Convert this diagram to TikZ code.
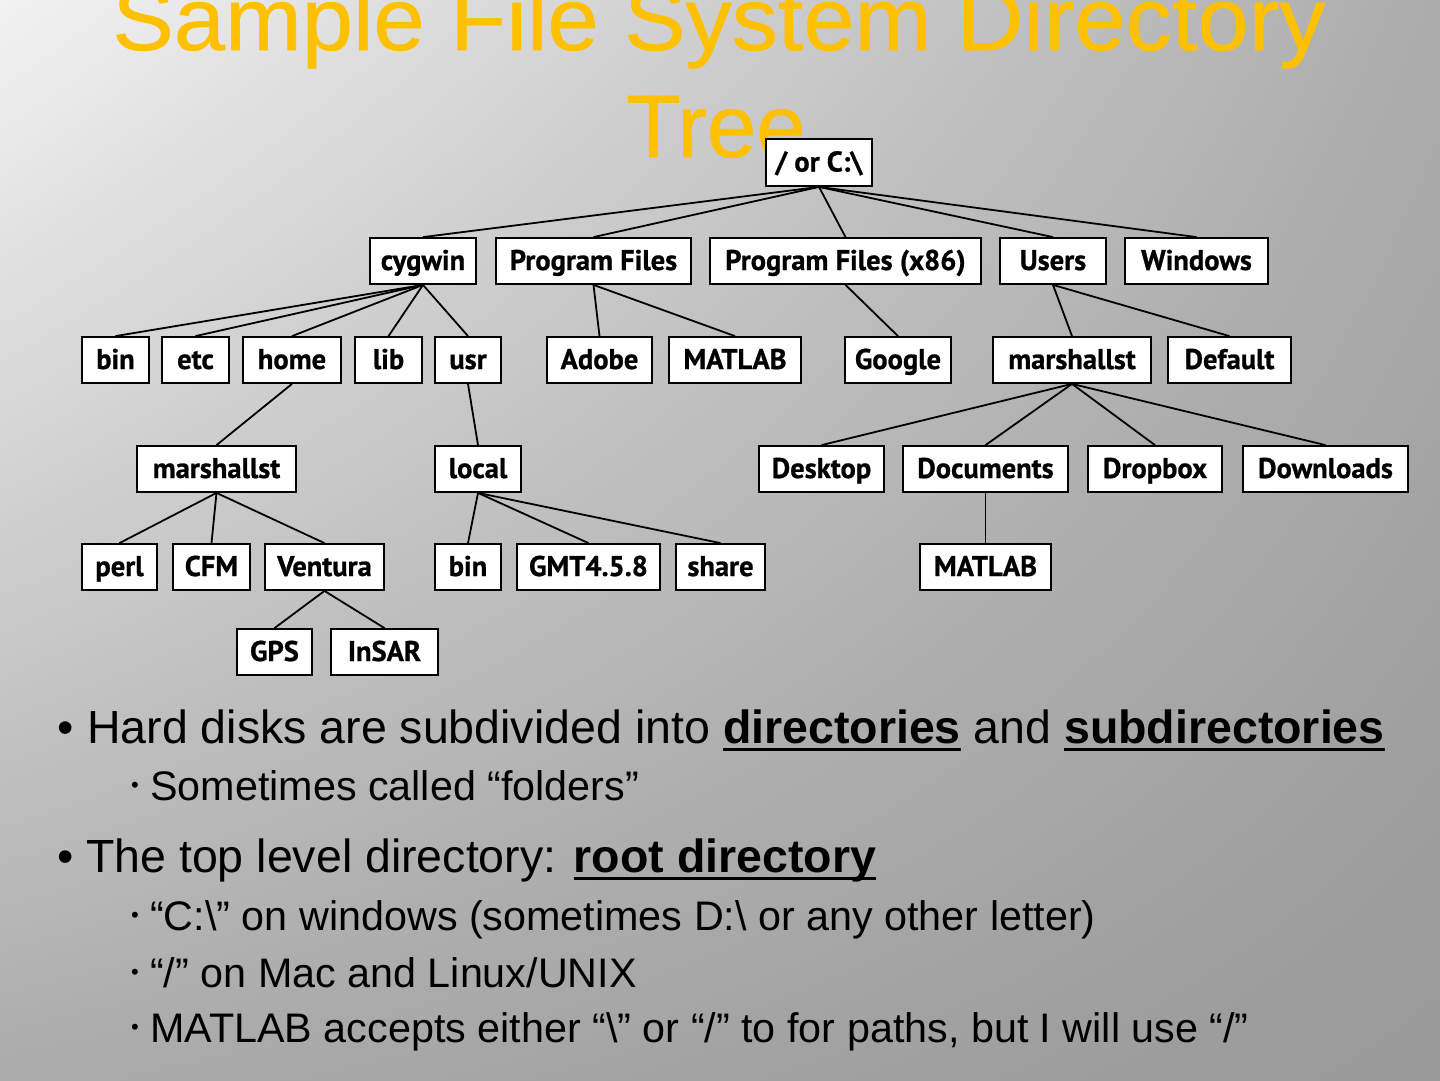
\documentclass[tikz,border=0pt]{standalone}
\usepackage{fontspec}
\usetikzlibrary{shadings}
\setmainfont{Liberation Sans}
\newfontfamily\titlefont{Liberation Sans}[FakeBold=0.6]
\newfontfamily\boxfont{PT Sans}[BoldFeatures={FakeBold=0.8}]
\definecolor{titleorange}{HTML}{FFC000}
\definecolor{bgtl}{HTML}{F2F2F2}
\definecolor{bgtr}{HTML}{ACACAC}
\definecolor{bgbl}{HTML}{ABABAB}
\definecolor{bgbr}{HTML}{999999}
\newcommand\myul[1]{\setbox0\hbox{#1}\rlap{\rule[-8pt]{\wd0}{3pt}}\box0\relax}
\begin{document}
\begin{tikzpicture}[x=1pt,y=-1pt,
  dirbox/.style={draw=black, fill=white, line width=1.8pt, minimum height=46pt,
    inner sep=0pt, text height=24pt, text depth=6pt,
    font=\boxfont\bfseries\fontsize{28.5}{28.5}\selectfont},
  edge/.style={line width=1.8pt, black},
  lvlone/.style={anchor=base west, inner sep=0pt, font=\fontsize{46.5}{46.5}\selectfont},
  lvltwo/.style={anchor=base west, inner sep=0pt, font=\fontsize{41.3}{41.3}\selectfont},
  smallbullet/.style={anchor=base west, inner sep=0pt, font=\fontsize{22}{22}\selectfont},
  titletext/.style={anchor=base, inner sep=0pt, text=titleorange, font=\titlefont\fontsize{89}{89}\selectfont}]
\useasboundingbox (0,0) rectangle (1440,1080);
\shade[upper left=bgtl, upper right=bgtr, lower left=bgbl, lower right=bgbr] (0,0) rectangle (1440,1080);
% title
\node[titletext] (t1) at (719,50) {\scalebox{1.035}[1]{Sample File System Directory}};
\node[titletext] (t2) at (716,157) {Tree};
% tree nodes
\node[dirbox, minimum width=106pt, minimum height=47pt] (root) at (819,162.5) {/ or C:\textbackslash};
\node[dirbox, minimum width=106pt] (cyg) at (423,261) {cygwin};
\node[dirbox, minimum width=195pt] (pf) at (593.5,261) {Program Files};
\node[dirbox, minimum width=271pt] (pfx) at (845.5,261) {Program Files (x86)};
\node[dirbox, minimum width=106pt] (users) at (1053,261) {Users};
\node[dirbox, minimum width=143pt] (win) at (1196.5,261) {Windows};
\node[dirbox, minimum width=67pt] (bina) at (115.5,360) {bin};
\node[dirbox, minimum width=67pt] (etc) at (195.5,360) {etc};
\node[dirbox, minimum width=98pt] (home) at (292,360) {home};
\node[dirbox, minimum width=67pt] (lib) at (388.5,360) {lib};
\node[dirbox, minimum width=66pt] (usr) at (468,360) {usr};
\node[dirbox, minimum width=105pt] (adobe) at (599.5,360) {Adobe};
\node[dirbox, minimum width=132pt] (mata) at (735,360) {MATLAB};
\node[dirbox, minimum width=106pt] (google) at (898,360) {Google};
\node[dirbox, minimum width=158pt] (msb) at (1072,360) {marshallst};
\node[dirbox, minimum width=123pt] (default) at (1229.5,360) {Default};
\node[dirbox, minimum width=159pt] (msa) at (216.5,469) {marshallst};
\node[dirbox, minimum width=86pt] (local) at (478,469) {local};
\node[dirbox, minimum width=125pt] (desktop) at (821.5,469) {Desktop};
\node[dirbox, minimum width=165pt] (docs) at (985.5,469) {Documents};
\node[dirbox, minimum width=134pt] (dropbox) at (1155,469) {Dropbox};
\node[dirbox, minimum width=165pt] (downloads) at (1325.5,469) {Downloads};
\node[dirbox, minimum width=75pt] (perl) at (119.5,567) {perl};
\node[dirbox, minimum width=77pt] (cfm) at (211.5,567) {CFM};
\node[dirbox, minimum width=119pt] (ventura) at (324.5,567) {Ventura};
\node[dirbox, minimum width=66pt] (binb) at (468,567) {bin};
\node[dirbox, minimum width=143pt] (gmt) at (588.5,567) {GMT4.5.8};
\node[dirbox, minimum width=89pt] (share) at (720.5,567) {share};
\node[dirbox, minimum width=131pt] (matb) at (985.5,567) {MATLAB};
\node[dirbox, minimum width=75pt] (gps) at (274.5,652) {GPS};
\node[dirbox, minimum width=107pt] (insar) at (384.5,652) {InSAR};
% edges
\foreach \c in {cyg,pf,pfx,users,win} \draw[edge] (root.south) -- (\c.north);
\foreach \c in {bina,etc,home,lib,usr} \draw[edge] (cyg.south) -- (\c.north);
\foreach \c in {adobe,mata} \draw[edge] (pf.south) -- (\c.north);
\draw[edge] (pfx.south) -- (google.north);
\foreach \c in {msb,default} \draw[edge] (users.south) -- (\c.north);
\draw[edge] (home.south) -- (msa.north);
\draw[edge] (usr.south) -- (local.north);
\foreach \c in {desktop,docs,dropbox,downloads} \draw[edge] (msb.south) -- (\c.north);
\foreach \c in {perl,cfm,ventura} \draw[edge] (msa.south) -- (\c.north);
\foreach \c in {binb,gmt,share} \draw[edge] (local.south) -- (\c.north);
\draw[edge] (docs.south) -- (matb.north);
\foreach \c in {gps,insar} \draw[edge] (ventura.south) -- (\c.north);
% bullets and text
\node[lvlone] (b1) at (57,743) {•};
\node[lvlone] (l1) at (87,743) {Hard disks are subdivided into \myul{\bfseries directories} and \myul{\bfseries subdirectories}};
\node[smallbullet] (b2) at (131,792) {•};
\node[lvltwo] (l2) at (150,800) {Sometimes called “folders”};
\node[lvlone] (b3) at (57,872) {•};
\node[lvlone] (l3) at (86,872) {The top level directory: \myul{\bfseries root directory}};
\node[smallbullet] (b4) at (131,922) {•};
\node[lvltwo] (l4) at (150,930) {“C:\textbackslash” on windows (sometimes D:\textbackslash\ or any other letter)};
\node[smallbullet] (b5) at (131,979) {•};
\node[lvltwo] (l5) at (150,987) {“/” on Mac and Linux/UNIX};
\node[smallbullet] (b6) at (131,1034) {•};
\node[lvltwo] (l6) at (150,1042) {MATLAB accepts either “\textbackslash” or “/” to for paths, but I will use “/”};
\end{tikzpicture}
\end{document}
